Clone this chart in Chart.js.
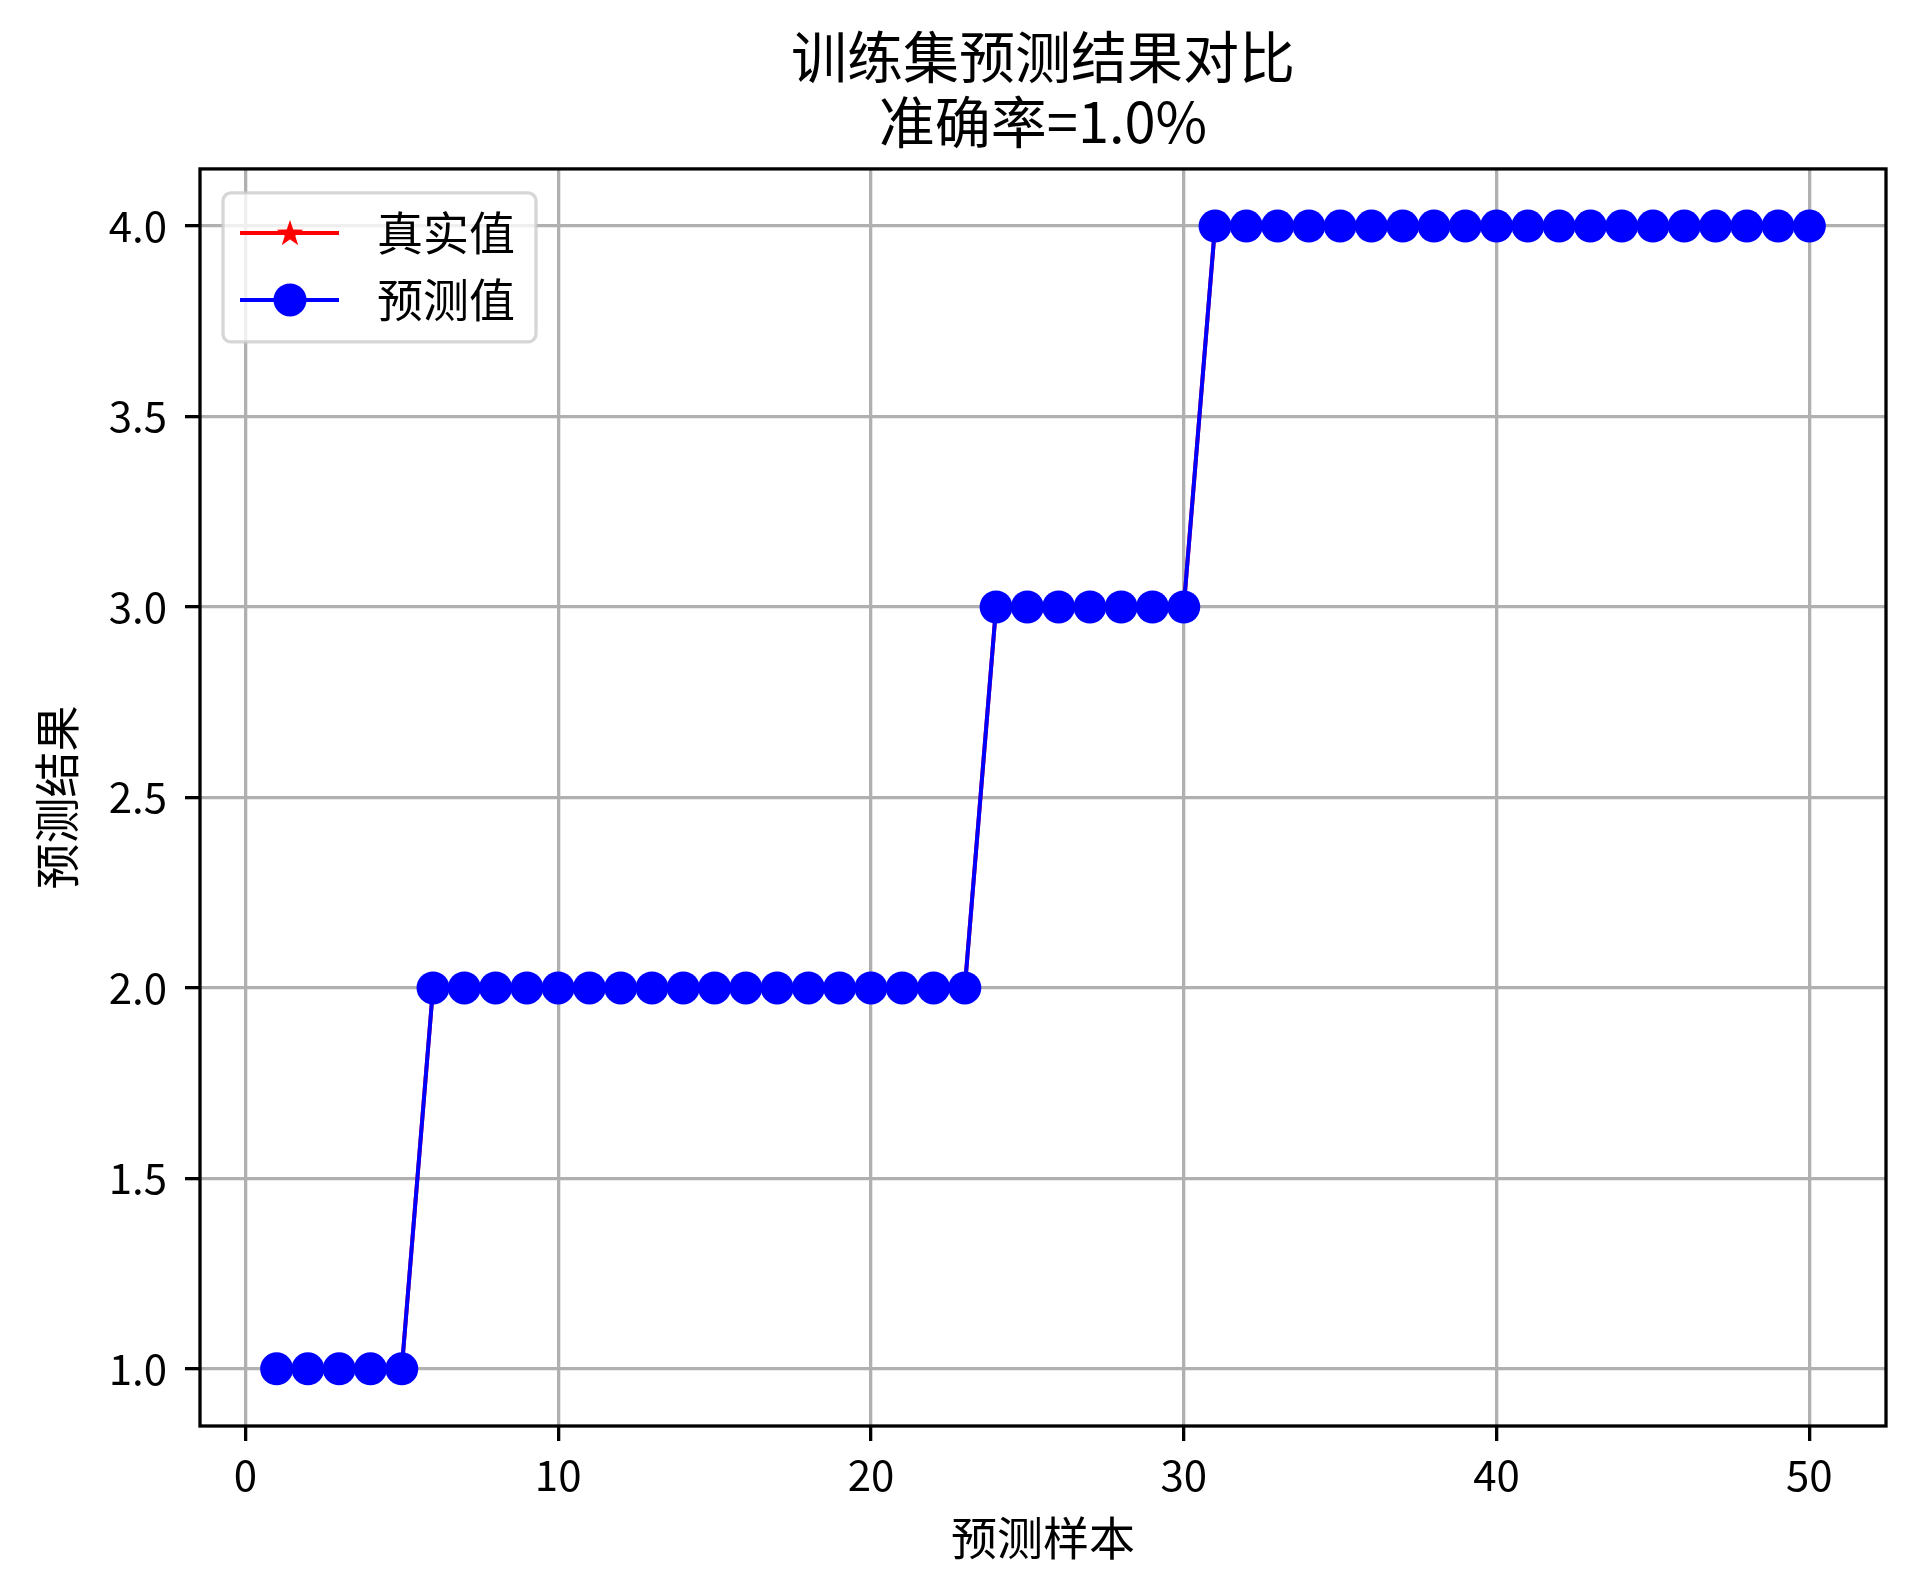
<!DOCTYPE html>
<html>
<head>
<meta charset="utf-8">
<script src="https://cdn.jsdelivr.net/npm/chart.js@4.4.1/dist/chart.umd.min.js"></script>
<style>
    html, body { margin: 0; padding: 0; background: #fff; }
    #wrap { width: 1920px; height: 1594px; }
</style>
</head>
<body>
<div id="wrap"><canvas id="chart" width="1920" height="1594"></canvas></div>
<script>
/* globals Chart */

const FONT = "'Noto Sans CJK SC', 'Noto Sans', sans-serif";

const sampleIds = [1, 2, 3, 4, 5, 6, 7, 8, 9, 10, 11, 12, 13, 14, 15, 16, 17, 18, 19, 20,
    21, 22, 23, 24, 25, 26, 27, 28, 29, 30, 31, 32, 33, 34, 35, 36, 37, 38, 39, 40,
    41, 42, 43, 44, 45, 46, 47, 48, 49, 50];
const trueValues = [1, 1, 1, 1, 1, 2, 2, 2, 2, 2, 2, 2, 2, 2, 2, 2, 2, 2, 2, 2,
    2, 2, 2, 3, 3, 3, 3, 3, 3, 3, 4, 4, 4, 4, 4, 4, 4, 4, 4, 4,
    4, 4, 4, 4, 4, 4, 4, 4, 4, 4];
const predictedValues = [1, 1, 1, 1, 1, 2, 2, 2, 2, 2, 2, 2, 2, 2, 2, 2, 2, 2, 2, 2,
    2, 2, 2, 3, 3, 3, 3, 3, 3, 3, 4, 4, 4, 4, 4, 4, 4, 4, 4, 4,
    4, 4, 4, 4, 4, 4, 4, 4, 4, 4];
const xTicks = [0, 10, 20, 30, 40, 50];
const yTicks = [1.0, 1.5, 2.0, 2.5, 3.0, 3.5, 4.0];
const titleLines = ["训练集预测结果对比", "准确率=1.0%"];
const xLabel = "预测样本";
const yLabel = "预测结果";
const seriesNames = ["真实值", "预测值"];

// filled five point star, like the matplotlib "*" marker
const makeStar = (color, r) => {
    const size = Math.ceil(r * 2 + 2);
    const c = document.createElement("canvas");
    c.width = size;
    c.height = size;
    const g = c.getContext("2d");
    g.fillStyle = color;
    g.beginPath();
    for (let i = 0; i < 10; i++) {
        const rad = i % 2 === 0 ? r : r * 0.39;
        const a = -Math.PI / 2 + i * Math.PI / 5;
        g.lineTo(size / 2 + rad * Math.cos(a), size / 2 + 1 + rad * Math.sin(a));
    }
    g.closePath();
    g.fill();
    return c;
};

const starImage = makeStar("#ff0000", 14);

const toPoints = (ys) => sampleIds.map((x, i) => ({ x, y: ys[i] }));

const frame = {
    id: "frame",
    afterDatasetsDraw(chart) {
        const { ctx, chartArea } = chart;
        ctx.save();
        ctx.strokeStyle = "#000";
        ctx.lineWidth = 3.3;
        ctx.strokeRect(chartArea.left, chartArea.top, chartArea.right - chartArea.left, chartArea.bottom - chartArea.top);
        ctx.restore();
    }
};

const legendBox = {
    id: "legendBox",
    afterDraw(chart) {
        const { ctx, chartArea } = chart;
        const x = chartArea.left + 23;
        const y = chartArea.top + 24;
        ctx.save();
        ctx.beginPath();
        ctx.roundRect(x, y, 313, 149, 8);
        ctx.fillStyle = "rgba(255, 255, 255, 0.8)";
        ctx.fill();
        ctx.strokeStyle = "rgba(204, 204, 204, 0.8)";
        ctx.lineWidth = 3.3;
        ctx.stroke();

        chart.data.datasets.forEach((ds, i) => {
            const ly = y + 40 + i * 67;
            ctx.strokeStyle = ds.borderColor;
            ctx.lineWidth = ds.borderWidth;
            ctx.beginPath();
            ctx.moveTo(x + 17, ly);
            ctx.lineTo(x + 116, ly);
            ctx.stroke();
            if (ds.pointStyle instanceof HTMLCanvasElement) {
                ctx.drawImage(ds.pointStyle, x + 67 - ds.pointStyle.width / 2, ly - ds.pointStyle.height / 2);
            } else {
                ctx.fillStyle = ds.pointBackgroundColor;
                ctx.beginPath();
                ctx.arc(x + 67, ly, ds.pointRadius, 0, Math.PI * 2);
                ctx.fill();
            }
            ctx.fillStyle = "#000";
            ctx.font = `46px ${FONT}`;
            ctx.textBaseline = "middle";
            ctx.textAlign = "left";
            ctx.fillText(ds.label, x + 154, ly);
        });
        ctx.restore();
    }
};

new Chart(document.getElementById("chart"), {
    type: "line",
    data: {
        datasets: [
            {
                label: seriesNames[0],
                data: toPoints(trueValues),
                borderColor: "#ff0000",
                borderWidth: 4,
                pointStyle: starImage,
                pointRadius: 14,
                tension: 0,
                order: 2
            },
            {
                label: seriesNames[1],
                data: toPoints(predictedValues),
                borderColor: "#0000ff",
                borderWidth: 4,
                pointStyle: "circle",
                pointRadius: 16.5,
                pointBackgroundColor: "#0000ff",
                pointBorderColor: "#0000ff",
                pointBorderWidth: 0,
                tension: 0,
                order: 1
            }
        ]
    },
    options: {
        responsive: false,
        devicePixelRatio: 1,
        animation: false,
        layout: { padding: { left: 0, right: 34, top: 0, bottom: 0 } },
        scales: {
            x: {
                type: "linear",
                min: -1.45,
                max: 52.45,
                afterBuildTicks: (scale) => { scale.ticks = xTicks.map((v) => ({ value: v })); },
                afterFit: (scale) => { scale.height = 168; },
                grid: { color: "#b0b0b0", lineWidth: 3.3, tickColor: "#000", tickWidth: 3.3, tickLength: 15 },
                border: { display: false },
                ticks: {
                    color: "#000",
                    padding: 9,
                    maxRotation: 0,
                    font: { family: FONT, size: 42, lineHeight: 1.2 },
                    callback: (v) => String(v)
                },
                title: {
                    display: true,
                    text: xLabel,
                    color: "#000",
                    padding: { top: 0, bottom: 29 },
                    font: { family: FONT, size: 46, lineHeight: 1.2 }
                }
            },
            y: {
                min: 0.85,
                max: 4.15,
                afterBuildTicks: (scale) => { scale.ticks = yTicks.map((v) => ({ value: v })); },
                afterFit: (scale) => { scale.width = 200; },
                grid: { color: "#b0b0b0", lineWidth: 3.3, tickColor: "#000", tickWidth: 3.3, tickLength: 15 },
                border: { display: false },
                ticks: {
                    color: "#000",
                    padding: 18,
                    font: { family: FONT, size: 42, lineHeight: 1.2 },
                    callback: (v) => v.toFixed(1)
                },
                title: {
                    display: true,
                    text: yLabel,
                    color: "#000",
                    padding: { top: 29, bottom: 0 },
                    font: { family: FONT, size: 46, lineHeight: 1.2 }
                }
            }
        },
        plugins: {
            legend: { display: false },
            tooltip: { enabled: false },
            title: {
                display: true,
                fullSize: false,
                text: titleLines,
                color: "#000",
                padding: { top: 24, bottom: 15 },
                font: { family: FONT, size: 56, weight: "normal", lineHeight: 1.16 }
            }
        }
    },
    plugins: [frame, legendBox]
});
</script>
</body>
</html>
